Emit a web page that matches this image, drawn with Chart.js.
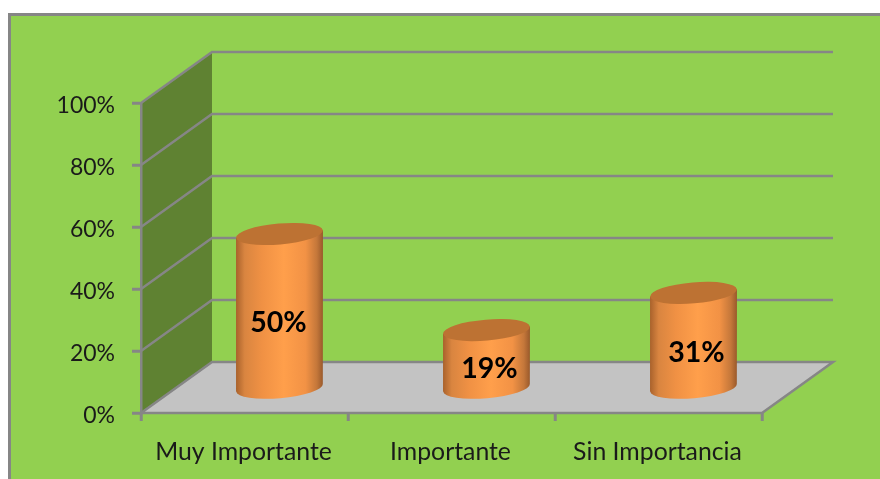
<!DOCTYPE html>
<html lang="es">
<head>
<meta charset="utf-8">
<title>Importancia</title>
<script src="https://cdn.jsdelivr.net/npm/chart.js@4/dist/chart.umd.js"></script>
<style>
  html, body { margin: 0; padding: 0; background: #fff; overflow: hidden; }
  #wrap { position: absolute; left: 0; top: 0; width: 880px; height: 479px; }
</style>
</head>
<body>
<div id="wrap"><canvas id="chart" width="880" height="479"></canvas></div>
<script>
// Survey results
const categories = ['Muy Importante', 'Importante', 'Sin Importancia'];
const percentages = [50, 19, 31];
const yTicks = [0, 20, 40, 60, 80, 100];

// Colours
const BACKGROUND = '#92d050';
const LINE = '#868686';
const SIDE_WALL = '#5f8232';
const FLOOR = '#c3c3c3';
const CAP = '#bd7233';
const TEXT = '#1a1a1a';
const FONT = 'Lato, Carlito, sans-serif';

// Oblique projection of the box: how far the back plane is shifted from the front one
const DEPTH_X = 71;
const DEPTH_Y = -51;
const BAR_DEPTH_X = 35;
const BAR_DEPTH_Y = -24;

// Small label shifts relative to the middle of each cylinder
const LABEL_DX = [-1, 3, 3];
const LABEL_DY = [12, 10, 12];

// Green panel with a grey edge along its top and left sides
const panel = {
  id: 'panel',
  beforeDraw(chart) {
    const { ctx, width, height } = chart;
    ctx.save();
    ctx.fillStyle = '#fff';
    ctx.fillRect(0, 0, width, height);
    ctx.fillStyle = BACKGROUND;
    ctx.fillRect(10, 15, width - 10, height - 15);
    ctx.fillStyle = LINE;
    ctx.fillRect(8, 13, width - 8, 3);
    ctx.fillRect(8, 13, 3, height - 13);
    ctx.restore();
  }
};

// Side wall, floor and receding gridlines of the 3D box, painted under the axes
const box = {
  id: 'box',
  beforeDraw(chart) {
    const { ctx, chartArea: a, scales: { y } } = chart;
    const y0 = y.getPixelForValue(0);
    const y100 = y.getPixelForValue(100);
    const poly = (pts) => {
      ctx.beginPath();
      pts.forEach(([px, py], i) => (i ? ctx.lineTo(px, py) : ctx.moveTo(px, py)));
      ctx.closePath();
    };
    ctx.save();
    poly([[a.left, y100], [a.left + DEPTH_X, y100 + DEPTH_Y], [a.left + DEPTH_X, y0 + DEPTH_Y], [a.left, y0]]);
    ctx.fillStyle = SIDE_WALL;
    ctx.fill();
    poly([[a.left, y0], [a.left + DEPTH_X, y0 + DEPTH_Y], [a.right + DEPTH_X, y0 + DEPTH_Y], [a.right, y0]]);
    ctx.fillStyle = FLOOR;
    ctx.fill();

    ctx.strokeStyle = LINE;
    ctx.lineWidth = 2.5;
    yTicks.forEach((v) => {
      const py = y.getPixelForValue(v);
      ctx.beginPath();
      ctx.moveTo(a.left, py);
      ctx.lineTo(a.left + DEPTH_X, py + DEPTH_Y);
      ctx.lineTo(a.right + DEPTH_X, py + DEPTH_Y);
      if (v === 0) {
        ctx.lineTo(a.right, py);
        ctx.lineTo(a.left, py);
      }
      ctx.stroke();
    });
    ctx.restore();
  }
};

// Cylinders placed on the bar elements, each with its percentage label
const cylinders = {
  id: 'cylinders',
  afterDatasetsDraw(chart) {
    const { ctx } = chart;
    const meta = chart.getDatasetMeta(0);
    const tilt = -0.085;
    const ry = 10.5;
    meta.data.forEach((bar, i) => {
      const rx = bar.width / 2;
      const cx = bar.x + BAR_DEPTH_X;
      const top = bar.y + BAR_DEPTH_Y;
      const base = bar.base + BAR_DEPTH_Y;
      const left = cx - rx, right = cx + rx;
      const lift = Math.sin(-tilt) * rx;

      const g = ctx.createLinearGradient(left, 0, right, 0);
      g.addColorStop(0, '#a9622c');
      g.addColorStop(0.1, '#d98540');
      g.addColorStop(0.3, '#f09144');
      g.addColorStop(0.55, '#ff9f4b');
      g.addColorStop(0.8, '#f29245');
      g.addColorStop(0.93, '#c4773a');
      g.addColorStop(1, '#99592b');

      ctx.save();
      ctx.beginPath();
      ctx.moveTo(left, top + lift);
      ctx.lineTo(left, base + lift);
      ctx.ellipse(cx, base, rx, ry, tilt, Math.PI, 0, true);
      ctx.lineTo(right, top - lift);
      ctx.closePath();
      ctx.fillStyle = g;
      ctx.fill();

      ctx.beginPath();
      ctx.ellipse(cx, top, rx, ry, tilt, 0, Math.PI * 2);
      ctx.fillStyle = CAP;
      ctx.fill();

      ctx.fillStyle = '#000';
      ctx.font = 'bold 28.5px ' + FONT;
      ctx.textAlign = 'center';
      ctx.textBaseline = 'middle';
      ctx.fillText(percentages[i] + '%', cx + LABEL_DX[i], (top + base) / 2 + LABEL_DY[i]);
      ctx.restore();
    });
  }
};

new Chart(document.getElementById('chart'), {
  type: 'bar',
  data: {
    labels: categories,
    datasets: [{
      data: percentages,
      backgroundColor: 'rgba(0,0,0,0)',
      borderWidth: 0,
      barPercentage: 0.42,
      categoryPercentage: 1
    }]
  },
  plugins: [panel, box, cylinders],
  options: {
    responsive: false,
    animation: false,
    layout: { padding: { left: 0, right: 118, top: 103, bottom: 0 } },
    plugins: { legend: { display: false }, tooltip: { enabled: false } },
    scales: {
      x: {
        afterFit(axis) { axis.height = 66; },
        grid: { drawOnChartArea: false, drawTicks: true, tickLength: 8, color: LINE, tickColor: LINE, lineWidth: 2.5, tickWidth: 3, offset: true },
        border: { display: false },
        ticks: { color: TEXT, font: { family: FONT, size: 24.8 }, padding: 16, labelOffset: -1, maxRotation: 0, autoSkip: false }
      },
      y: {
        min: 0,
        max: 100,
        afterBuildTicks(axis) { axis.ticks = yTicks.map((value) => ({ value })); },
        afterFit(axis) { axis.width = 141; },
        grid: { drawOnChartArea: false, drawTicks: true, tickLength: 9, color: LINE, tickColor: LINE, lineWidth: 2.5, tickWidth: 3 },
        border: { display: true, color: LINE, width: 2.5 },
        ticks: { color: TEXT, font: { family: FONT, size: 23 }, padding: 17, labelOffset: 3, callback: (v) => v + '%' }
      }
    }
  }
});
</script>
</body>
</html>
